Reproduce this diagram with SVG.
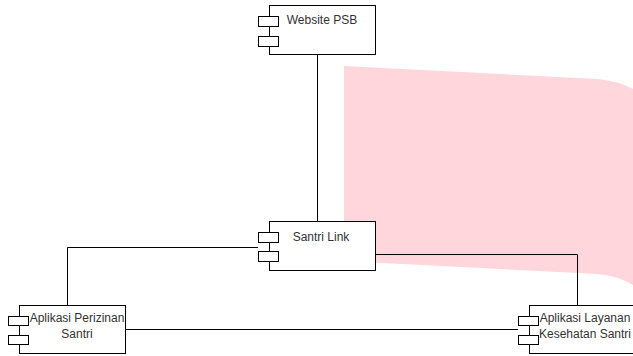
<svg xmlns="http://www.w3.org/2000/svg" width="633" height="356" viewBox="0 0 633 356">
<style>
.body{fill:#fff;stroke:#000;stroke-width:1}
.port{fill:#fff;stroke:#000;stroke-width:1}
.lbl{font-family:"Liberation Sans",Arial,sans-serif;font-size:12px;fill:#333;text-anchor:middle}
.edge{fill:none;stroke:#000;stroke-width:1}
</style>
<rect width="633" height="356" fill="#fff"/>
<path d="M344,66 L598,79 Q618,81 633,89 L633,285 Q618,276 598,274 L344,261 Z" fill="#ffd6db"/>
<g id="connectors">
<path class="edge" d="M317.5,55 V222"/>
<path class="edge" d="M258,247.5 H67.5 V305"/>
<path class="edge" d="M376,254.5 H577.5 V305"/>
<path class="edge" d="M125,329.5 H518"/>
</g>
<g id="website-psb">
<rect class="body" x="269.5" y="5.5" width="106" height="49"/>
<rect class="port" x="258.5" y="16.5" width="20" height="10"/>
<rect class="port" x="258.5" y="36.5" width="20" height="10"/>
<text class="lbl" x="322" y="24">Website PSB</text>
</g>
<g id="santri-link">
<rect class="body" x="269.5" y="221.5" width="106" height="49"/>
<rect class="port" x="258.5" y="232.5" width="20" height="10"/>
<rect class="port" x="258.5" y="251.5" width="20" height="10"/>
<text class="lbl" x="321" y="241">Santri Link</text>
</g>
<g id="aplikasi-perizinan">
<rect class="body" x="19.5" y="305.5" width="106" height="48"/>
<rect class="port" x="8.5" y="316.5" width="20" height="9"/>
<rect class="port" x="8.5" y="335.5" width="20" height="9"/>
<text class="lbl" x="77" y="322">Aplikasi Perizinan</text>
<text class="lbl" x="77" y="338">Santri</text>
</g>
<g id="aplikasi-layanan">
<rect class="body" x="529.5" y="305.5" width="106" height="48"/>
<rect class="port" x="518.5" y="316.5" width="20" height="9"/>
<rect class="port" x="518.5" y="335.5" width="20" height="9"/>
<text class="lbl" x="585" y="322">Aplikasi Layanan</text>
<text class="lbl" x="585" y="338">Kesehatan Santri</text>
</g>
</svg>
